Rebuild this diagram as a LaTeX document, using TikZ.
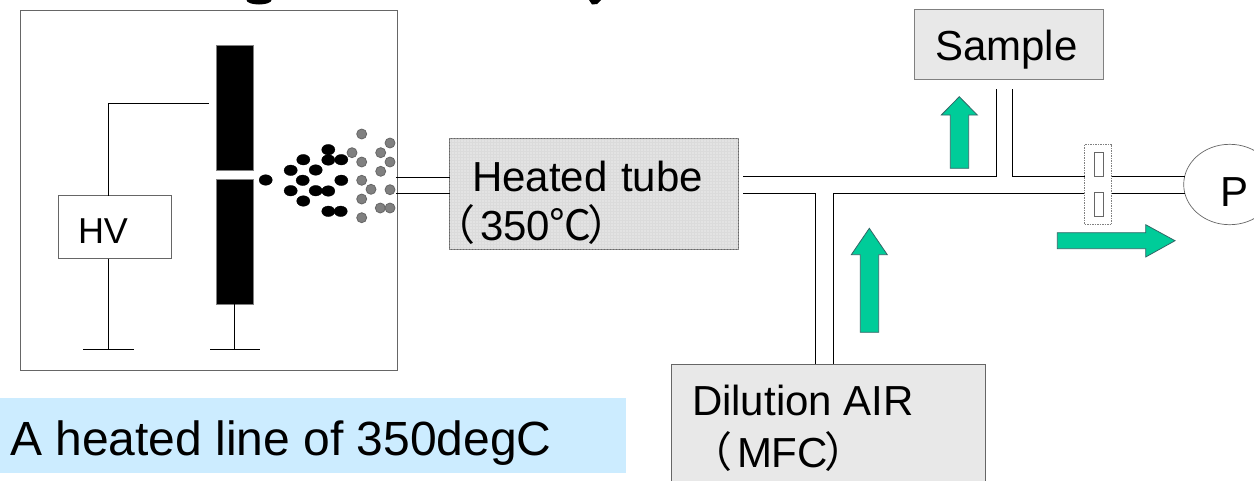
\documentclass[tikz,border=0pt]{standalone}
\usetikzlibrary{shapes.geometric,patterns.meta}
\usepackage{fontspec}
\setmainfont{Liberation Sans}
\newfontfamily\cjk{Noto Sans CJK JP}
\definecolor{flow}{HTML}{00CC99}
\definecolor{flowedge}{HTML}{336666}
\definecolor{edgegray}{HTML}{666666}
\definecolor{panel}{HTML}{E8E8E8}
\definecolor{heated}{HTML}{DBDBDB}
\definecolor{note}{HTML}{CCECFF}
\definecolor{ash}{HTML}{808080}
\tikzset{
  x=1pt,y=-1pt,
  every node/.style={inner sep=0pt,outer sep=0pt},
  lab/.style={font=\fontsize{42}{42}\selectfont,anchor=base west},
  wire/.style={draw=black,line width=1pt},
  pipe/.style={draw=black,line width=1pt},
  boxg/.style={draw=edgegray,line width=1pt},
  arrowf/.style={fill=flow,draw=flowedge,line width=0.8pt,line join=miter},
  blackdot/.style={fill=black,draw=black,line width=0.3pt},
  graydot/.style={fill=ash,draw=edgegray,line width=0.8pt},
}
\begin{document}
\begin{tikzpicture}
\useasboundingbox (0,0) rectangle (1254,480);
\clip (0,0) rectangle (1254,480);
% clipped remnants at the top edge
\fill[black] (246.5,0) arc[start angle=180,end angle=0,x radius=12.5,y radius=4.5] -- cycle;
\fill[black] (589,0) -- (601,0) -- (597,4) -- (592,4.5) -- cycle;
% source enclosure
\node[boxg,minimum width=377pt,minimum height=360pt] (enc) at (209,190.5) {};
% HV supply and wiring
\node[boxg,fill=white,minimum width=113pt,minimum height=63pt] (hv) at (115,227) {};
\node[anchor=base west,font=\fontsize{36}{36}\selectfont] (hvt) at (78,243) {HV};
\coordinate (hvtop) at (108.5,195.5);
\coordinate (hvbot) at (108.5,258.5);
\coordinate (hvbend) at (108.5,103.5);
\coordinate (hvend) at (209,103.5);
\coordinate (g1) at (108.5,349);
\draw[wire] (hvtop) -- (hvbend) -- (hvend);
\draw[wire] (hvbot) -- (g1);
\coordinate (g1l) at (83,349); \coordinate (g1r) at (134,349);
\draw[wire] (g1l) -- (g1r);
% electrode
\node[fill=black,draw=gray,line width=0.6pt,minimum width=37pt,minimum height=125pt] (eu) at (234.5,108) {};
\node[fill=black,draw=gray,line width=0.6pt,minimum width=37pt,minimum height=124.5pt] (el) at (234.5,241.75) {};
\coordinate (g2) at (234.5,349);
\coordinate (g2l) at (210,349); \coordinate (g2r) at (260,349);
\draw[wire] (el.south) -- (g2);
\draw[wire] (g2l) -- (g2r);
% particles
\foreach \x/\y in {265.7/180,290.7/170.3,303.3/159.7,315.7/170,302.7/180.3,290.7/190.7,303.3/201,315.7/190.7,328.3/191,328.3/149.7,328.3/160,341.3/159.7,341.3/180.3,328.3/211.3,340.7/211.3}
  \draw[blackdot] (\x,\y) ellipse[x radius=6.6,y radius=5.3];
\foreach \x/\y in {361.7/134,390/143,352/152.7,380.7/152.7,361.7/162,390/162,380.7/171.3,361.7/180.3,371/189.3,390/189.7,361.7/199,380.3/208,390/208,361.7/217.7}
  \draw[graydot] (\x,\y) circle[radius=5];
% heated tube
\node[draw=edgegray,fill=heated,line width=1pt,minimum width=289pt,minimum height=111pt,
  postaction={pattern={Dots[distance=3pt,radius=0.55pt]},pattern color=white}] (tube) at (594,194) {};
\node[lab] (tubea) at (472,191) {Heated\hspace{2pt} tube};
\node[lab] (tubeb) at (450,240) {{\cjk\kern-17pt （\kern5pt}350{\cjk\kern-1pt ℃\kern-4pt）}};
% inlet pipe
\coordinate (ia) at (396,177.5); \coordinate (ib) at (396,193.5);
\draw[pipe] (ia) -- (ia-|tube.west);
\draw[pipe] (ib) -- (ib-|tube.west);
% sample
\node[draw=gray,fill=panel,line width=1pt,minimum width=189pt,minimum height=70pt] (sample) at (1008.75,44) {};
\node[lab] (samplet) at (935,60) {Sample};
% dilution
\node[draw=edgegray,fill=panel,line width=1pt,minimum width=313.7pt,minimum height=140pt] (dil) at (828.15,434.3) {};
\node[lab] (dila) at (692,415) {Dilution AIR};
\node[lab] (dilb) at (707,467) {{\cjk\kern-17pt （\kern5pt}MFC{\cjk\kern-3pt ）}};
% pump
\node[draw=edgegray,fill=white,line width=0.7pt,ellipse,minimum width=92pt,minimum height=80.4pt] (pump) at (1229.7,184.5) {};
\node[lab] (pumpt) at (1220,206.5) {P};
% flow lines
\coordinate (a0) at (743,176.3);
\coordinate (a1) at (996,176.3);
\coordinate (a2) at (996,89);
\coordinate (b2) at (1012.5,89);
\coordinate (b1) at (1012.5,176.3);
\coordinate (b0) at (1184.5,176.3);
\coordinate (c0) at (743,193.3);
\coordinate (c1) at (815.7,193.3);
\coordinate (c2) at (815.7,364);
\coordinate (d2) at (833.3,364);
\coordinate (d1) at (833.3,193.3);
\coordinate (d0) at (1184.5,193.3);
\draw[pipe] (a0) -- (a1) -- (a2);
\draw[pipe] (b2) -- (b1) -- (b0);
\draw[pipe] (c0) -- (c1) -- (c2);
\draw[pipe] (d2) -- (d1) -- (d0);
% filter holder
\node[draw=gray,dash pattern=on 1.5pt off 1pt,fill=white,line width=0.8pt,minimum width=27pt,minimum height=80.4pt] (fh) at (1098.2,184.5) {};
\node[draw=edgegray,fill=white,line width=0.8pt,minimum width=8.7pt,minimum height=24.4pt] (fa) at (1098.7,164.5) {};
\node[draw=edgegray,fill=white,line width=0.8pt,minimum width=8.7pt,minimum height=24.4pt] (fb) at (1098.7,204.5) {};
% flow arrows
\draw[arrowf] (950.3,168.3) -- (950.3,115) -- (941.3,115) -- (959.3,96.7) -- (977.3,115) -- (968.7,115) -- (968.7,168.3) -- cycle;
\draw[arrowf] (860.3,332.3) -- (860.3,254.7) -- (851.3,254.7) -- (869.3,228.3) -- (887.3,254.7) -- (878.7,254.7) -- (878.7,332.3) -- cycle;
\draw[arrowf] (1057.3,232.7) -- (1145.7,232.7) -- (1145.7,224.7) -- (1175,240.7) -- (1145.7,257) -- (1145.7,248.7) -- (1057.3,248.7) -- cycle;
% note
\node[fill=note,minimum width=626pt,minimum height=75pt] (nb) at (313,435.5) {};
\node[anchor=base west,font=\fontsize{48}{48}\selectfont] (nt) at (10,455) {A heated line of 350degC};
\end{tikzpicture}
\end{document}
